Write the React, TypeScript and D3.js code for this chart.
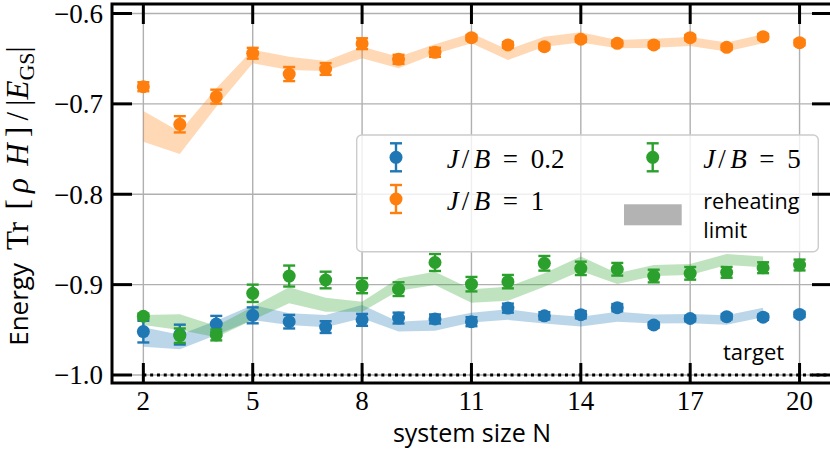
import React from "react";
import * as d3 from "d3";

// ---------------- data ----------------
const sizes = [2, 3, 4, 5, 6, 7, 8, 9, 10, 11, 12, 13, 14, 15, 16, 17, 18, 19, 20];

const blueMean = [-0.952, -0.9553, -0.9436, -0.934, -0.941, -0.947, -0.939, -0.937, -0.938, -0.941, -0.926, -0.9345, -0.9333, -0.9255, -0.9447, -0.9375, -0.9355, -0.936, -0.933];
const blueErr = [0.012, 0.011, 0.009, 0.0088, 0.0075, 0.0065, 0.0066, 0.006, 0.005, 0.005, 0.005, 0.004, 0.004, 0.004, 0.003, 0.003, 0.003, 0.003, 0.003];

const orangeMean = [-0.681, -0.7226, -0.692, -0.644, -0.667, -0.6614, -0.6334, -0.6507, -0.643, -0.6268, -0.6348, -0.6367, -0.6285, -0.633, -0.6348, -0.6268, -0.6374, -0.6257, -0.6323];
const orangeErr = [0.005, 0.009, 0.0077, 0.006, 0.0078, 0.0065, 0.006, 0.005, 0.005, 0.003, 0.003, 0.003, 0.003, 0.003, 0.003, 0.003, 0.003, 0.003, 0.003];

const greenMean = [-0.935, -0.9565, -0.9557, -0.9096, -0.8905, -0.8949, -0.9012, -0.905, -0.8755, -0.8995, -0.8967, -0.8764, -0.882, -0.883, -0.8905, -0.8875, -0.8864, -0.8813, -0.8783];
const greenErr = [0.003, 0.008, 0.006, 0.0096, 0.0116, 0.0092, 0.0083, 0.0076, 0.0094, 0.008, 0.0074, 0.0081, 0.0074, 0.007, 0.007, 0.007, 0.006, 0.006, 0.006];

// reheating limit bands (N = 2 .. 19)
const bandSizes = [2, 3, 4, 5, 6, 7, 8, 9, 10, 11, 12, 13, 14, 15, 16, 17, 18, 19];
const blueBandLo = [-0.9687, -0.9716, -0.9557, -0.9391, -0.9447, -0.9473, -0.9373, -0.952, -0.951, -0.942, -0.939, -0.943, -0.9462, -0.941, -0.943, -0.9427, -0.9445, -0.936];
const blueBandHi = [-0.9473, -0.9555, -0.9399, -0.9226, -0.9317, -0.9336, -0.9225, -0.941, -0.939, -0.931, -0.9273, -0.9325, -0.9355, -0.93, -0.933, -0.9325, -0.934, -0.9255];
const orangeBandLo = [-0.7419, -0.7555, -0.7031, -0.655, -0.6625, -0.6636, -0.6496, -0.6606, -0.6448, -0.633, -0.6514, -0.6367, -0.632, -0.6385, -0.638, -0.636, -0.642, -0.633];
const orangeBandHi = [-0.7079, -0.7308, -0.6828, -0.64, -0.6478, -0.6525, -0.6367, -0.648, -0.634, -0.622, -0.64, -0.6256, -0.6208, -0.6293, -0.628, -0.626, -0.632, -0.623];
const greenBandLo = [-0.9447, -0.9502, -0.9583, -0.9391, -0.9207, -0.93, -0.93, -0.9067, -0.9004, -0.92, -0.9178, -0.9023, -0.8848, -0.8993, -0.8905, -0.8893, -0.8783, -0.8808];
const greenBandHi = [-0.9336, -0.9328, -0.9458, -0.9244, -0.903, -0.9145, -0.9189, -0.893, -0.8857, -0.9052, -0.9023, -0.8875, -0.869, -0.8875, -0.8783, -0.8772, -0.8661, -0.869];

const xTicks = [2, 5, 8, 11, 14, 17, 20];
const yTicks = [-1.0, -0.9, -0.8, -0.7, -0.6];
const targetValue = -1.0;

const legendLabels = ["0.2", "1", "5"];

// ---------------- styling ----------------
const C_BLUE = "#1f77b4";
const C_ORANGE = "#ff7f0e";
const C_GREEN = "#2ca02c";
const SANS = "'Open Sans', Lato, sans-serif";
const SERIF = "'Liberation Serif', 'DejaVu Serif', serif";

const W = 830;
const H = 453;
const L = 112, R = 832, T = 4, B = 383;

const x = d3.scaleLinear().domain([1.14, 20.89]).range([L, R]);
const y = d3.scaleLinear().domain([-1.00885, -0.5895]).range([B, T]);

function fmtTick(v: number) {
  return v.toFixed(1).replace("-", "\u2212");
}

type Series = { mean: number[]; err: number[]; color: string };

function ErrSeries({ s }: { s: Series }) {
  const cap = 6;
  return (
    <g>
      {sizes.map((n, i) => {
        const cx = x(n);
        const y1 = y(s.mean[i] + s.err[i]);
        const y2 = y(s.mean[i] - s.err[i]);
        return (
          <g key={i}>
            <line x1={cx} x2={cx} y1={y1} y2={y2} stroke={s.color} strokeWidth={2.4} />
            <line x1={cx - cap} x2={cx + cap} y1={y1} y2={y1} stroke={s.color} strokeWidth={2.4} />
            <line x1={cx - cap} x2={cx + cap} y1={y2} y2={y2} stroke={s.color} strokeWidth={2.4} />
            <circle cx={cx} cy={y(s.mean[i])} r={6.5} fill={s.color} />
          </g>
        );
      })}
    </g>
  );
}

function Band({ lo, hi, color }: { lo: number[]; hi: number[]; color: string }) {
  const area = d3
    .area<number>()
    .x((_, i) => x(bandSizes[i]))
    .y0((_, i) => y(lo[i]))
    .y1((_, i) => y(hi[i]));
  return <path d={area(bandSizes) || ""} fill={color} fillOpacity={0.3} stroke="none" />;
}

function LegendHandle({ cx, cy, color }: { cx: number; cy: number; color: string }) {
  return (
    <g>
      <line x1={cx} x2={cx} y1={cy - 14} y2={cy + 14} stroke={color} strokeWidth={2.4} />
      <line x1={cx - 6} x2={cx + 6} y1={cy - 14} y2={cy - 14} stroke={color} strokeWidth={2.4} />
      <line x1={cx - 6} x2={cx + 6} y1={cy + 14} y2={cy + 14} stroke={color} strokeWidth={2.4} />
      <circle cx={cx} cy={cy} r={6.5} fill={color} />
    </g>
  );
}

function MathLabel({ x0, yb, value }: { x0: number; yb: number; value: string }) {
  const fs = 27;
  return (
    <g fontFamily={SERIF} fontSize={fs} fill="#000">
      <text x={x0} y={yb} fontStyle="italic">J</text>
      <text x={x0 + 15} y={yb}>/</text>
      <text x={x0 + 27} y={yb} fontStyle="italic">B</text>
      <text x={x0 + 56} y={yb}>=</text>
      <text x={x0 + 84} y={yb}>{value}</text>
    </g>
  );
}

export default function App() {
  const blue: Series = { mean: blueMean, err: blueErr, color: C_BLUE };
  const orange: Series = { mean: orangeMean, err: orangeErr, color: C_ORANGE };
  const green: Series = { mean: greenMean, err: greenErr, color: C_GREEN };

  const cy = 196;

  return (
    <svg
      width={W}
      height={H}
      viewBox={`0 0 ${W} ${H}`}
      style={{ position: "absolute", left: 0, top: 0, background: "#fff" }}
    >
      <rect x={0} y={0} width={W} height={H} fill="#fff" />
      <defs>
        <clipPath id="plotclip">
          <rect x={L} y={T} width={R - L} height={B - T} />
        </clipPath>
      </defs>

      {/* grid */}
      <g stroke="#b0b0b0" strokeWidth={1.4}>
        {xTicks.map((t) => (
          <line key={"gx" + t} x1={x(t)} x2={x(t)} y1={T} y2={B} />
        ))}
        {yTicks.map((t) => (
          <line key={"gy" + t} x1={L} x2={R} y1={y(t)} y2={y(t)} />
        ))}
      </g>

      <g clipPath="url(#plotclip)">
        <Band lo={blueBandLo} hi={blueBandHi} color={C_BLUE} />
        <Band lo={orangeBandLo} hi={orangeBandHi} color={C_ORANGE} />
        <Band lo={greenBandLo} hi={greenBandHi} color={C_GREEN} />

        {/* target */}
        <line
          x1={x(2)}
          x2={R}
          y1={y(targetValue)}
          y2={y(targetValue)}
          stroke="#000"
          strokeWidth={3}
          strokeDasharray="3 3.8"
        />

        <ErrSeries s={blue} />
        <ErrSeries s={orange} />
        <ErrSeries s={green} />
      </g>

      <text x={723} y={360} fontFamily={SANS} fontSize={22} fill="#000">
        target
      </text>

      {/* legend */}
      <g>
        <rect
          x={356.7}
          y={135}
          width={461.6}
          height={116.7}
          rx={5}
          fill="#fff"
          fillOpacity={0.8}
          stroke="#cccccc"
          strokeWidth={1.4}
        />
        <LegendHandle cx={396} cy={157.3} color={C_BLUE} />
        <MathLabel x0={446.7} yb={168.3} value={legendLabels[0]} />
        <LegendHandle cx={396} cy={199} color={C_ORANGE} />
        <MathLabel x0={446.7} yb={209.5} value={legendLabels[1]} />
        <LegendHandle cx={652.7} cy={157.3} color={C_GREEN} />
        <MathLabel x0={703.3} yb={168.3} value={legendLabels[2]} />
        <rect x={624} y={204.3} width={57.7} height={21} fill="#b3b3b3" />
        <text x={703.3} y={209} fontFamily={SANS} fontSize={21.5} fill="#000">
          reheating
        </text>
        <text x={703.3} y={238} fontFamily={SANS} fontSize={21.5} fill="#000">
          limit
        </text>
      </g>

      {/* spines */}
      <rect x={L} y={T} width={R - L} height={B - T} fill="none" stroke="#000" strokeWidth={3} />

      {/* ticks */}
      <g stroke="#000" strokeWidth={3}>
        {xTicks.map((t) => (
          <g key={"tx" + t}>
            <line x1={x(t)} x2={x(t)} y1={B} y2={B - 20} />
            <line x1={x(t)} x2={x(t)} y1={T} y2={T + 20} />
          </g>
        ))}
        {yTicks.map((t) => (
          <g key={"ty" + t}>
            <line x1={L} x2={L + 20} y1={y(t)} y2={y(t)} />
            <line x1={R} x2={R - 20} y1={y(t)} y2={y(t)} />
          </g>
        ))}
      </g>

      {/* tick labels */}
      <g fontFamily={SERIF} fontSize={27} fill="#000">
        {xTicks.map((t) => (
          <text key={"lx" + t} x={x(t)} y={410} textAnchor="middle">
            {String(t)}
          </text>
        ))}
        {yTicks.map((t) => (
          <text key={"ly" + t} x={103} y={y(t)} dy="0.35em" textAnchor="end">
            {fmtTick(t)}
          </text>
        ))}
      </g>

      {/* axis labels */}
      <text x={(L + R) / 2} y={442} textAnchor="middle" fontFamily={SANS} fontSize={25} fill="#000">
        system size N
      </text>

      <text
        transform={`translate(28,${cy}) rotate(-90)`}
        textAnchor="middle"
        fontSize={26}
        fill="#000"
      >
        <tspan fontFamily={SANS}>{"Energy\u2002"}</tspan>
        <tspan fontFamily={SERIF} fontSize={31}>Tr</tspan>
        <tspan fontFamily={SERIF} fontSize={31}>{"\u2009\u2009[\u2009"}</tspan>
        <tspan fontFamily={SERIF} fontSize={31} fontStyle="italic">{"\u03c1\u2009\u2009H"}</tspan>
        <tspan fontFamily={SERIF} fontSize={31}>{"\u2009]\u2009/\u2009|"}</tspan>
        <tspan fontFamily={SERIF} fontSize={31} fontStyle="italic">E</tspan>
        <tspan fontFamily={SERIF} fontSize={22} dy={6}>GS</tspan>
        <tspan fontFamily={SERIF} fontSize={31} dy={-6}>|</tspan>
      </text>
    </svg>
  );
}
